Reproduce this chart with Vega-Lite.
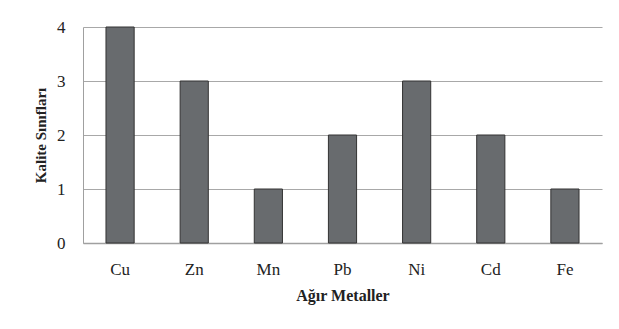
{
  "$schema": "https://vega.github.io/schema/vega-lite/v6.json",
  "autosize": "none",
  "width": 519,
  "height": 216,
  "padding": {"left": 83, "top": 27, "right": 17, "bottom": 86},
  "background": "white",
  "config": {
    "view": {"stroke": null},
    "font": "Liberation Serif",
    "axis": {"labelFont": "Liberation Serif", "titleFont": "Liberation Serif", "labelColor": "#222", "titleColor": "#222"}
  },
  "data": {
    "values": [
      {"metal": "Cu", "sinif": 4},
      {"metal": "Zn", "sinif": 3},
      {"metal": "Mn", "sinif": 1},
      {"metal": "Pb", "sinif": 2},
      {"metal": "Ni", "sinif": 3},
      {"metal": "Cd", "sinif": 2},
      {"metal": "Fe", "sinif": 1}
    ]
  },
  "mark": {"type": "bar", "color": "#686b6e", "stroke": "#333333", "strokeWidth": 1},
  "encoding": {
    "x": {
      "field": "metal",
      "type": "nominal",
      "sort": null,
      "scale": {"paddingInner": 0.62, "paddingOuter": 0.31},
      "axis": {
        "title": "Ağır Metaller",
        "titleFontSize": 16,
        "titleFontWeight": "bold",
        "titlePadding": 10,
        "labelAngle": 0,
        "labelFontSize": 17,
        "labelPadding": 18,
        "ticks": false,
        "domainColor": "#a0a0a0",
        "domainWidth": 1.5
      }
    },
    "y": {
      "field": "sinif",
      "type": "quantitative",
      "scale": {"domain": [0, 4]},
      "axis": {
        "title": "Kalite Sınıfları",
        "titleFontSize": 15,
        "titleFontWeight": "bold",
        "titlePadding": 8,
        "values": [0, 1, 2, 3, 4],
        "labelFontSize": 17,
        "labelPadding": 18,
        "ticks": false,
        "gridColor": "#a8a8a8",
        "gridWidth": 1.2,
        "domainColor": "#a0a0a0"
      }
    }
  }
}
